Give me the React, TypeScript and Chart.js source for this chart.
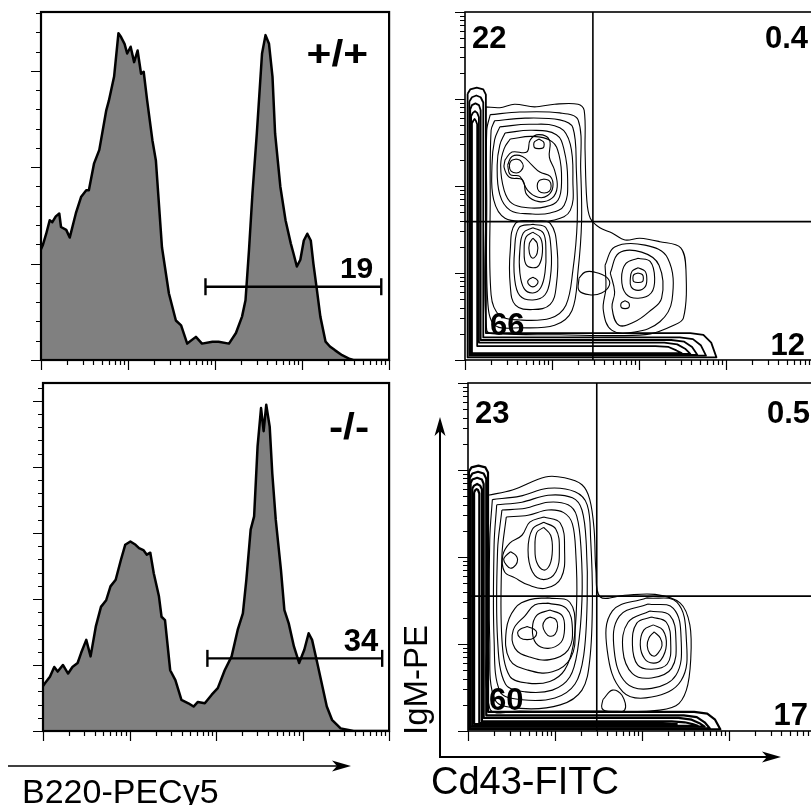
import React, { useEffect, useRef } from "react";
import { Chart, registerables } from "chart.js";

Chart.register(...registerables);

const FONT = '"Liberation Sans", Arial, Helvetica, sans-serif';

// ---------------- Histograms (x = log10 B220-PECy5 intensity, decades; y = events) ----------------
const WT_X = [0, 0.02, 0.06, 0.10, 0.13, 0.17, 0.21, 0.23, 0.29, 0.33, 0.40, 0.46, 0.52, 0.55, 0.61, 0.67, 0.75, 0.78, 0.84, 0.89, 0.92, 0.96, 0.99, 1.03, 1.07, 1.11, 1.15, 1.18, 1.22, 1.28, 1.32, 1.39, 1.47, 1.55, 1.61, 1.68, 1.78, 1.85, 1.97, 2.04, 2.16, 2.24, 2.31, 2.35, 2.39, 2.43, 2.48, 2.54, 2.58, 2.62, 2.66, 2.69, 2.75, 2.81, 2.87, 2.90, 2.94, 2.98, 3.02, 3.06, 3.10, 3.13, 3.17, 3.21, 3.27, 3.32, 3.38, 3.46, 3.55, 3.59, 4.00];
const WT_Y = [115, 119, 131, 145, 143, 149, 152, 138, 135, 127, 152, 169, 176, 176, 204, 218, 259, 269, 294, 339, 335, 328, 318, 325, 309, 321, 297, 299, 269, 228, 207, 117, 69, 41, 36, 17, 24, 17, 19, 19, 17, 28, 45, 62, 114, 173, 235, 318, 337, 328, 294, 235, 180, 145, 121, 111, 97, 104, 124, 131, 124, 100, 73, 45, 19, 14, 10, 5, 1, 0, 0];
const WT_GATE_X = [1.89, 3.91];
const WT_GATE_Y = 76;
const WT_GATE_LABEL = "19";
const WT_LABEL = "+/+";
const WT_Y_MAX = 361;

const KO_X = [0, 0.02, 0.08, 0.13, 0.17, 0.23, 0.29, 0.34, 0.40, 0.44, 0.50, 0.55, 0.61, 0.67, 0.73, 0.78, 0.84, 0.90, 0.95, 1.01, 1.07, 1.11, 1.16, 1.20, 1.24, 1.28, 1.34, 1.37, 1.41, 1.47, 1.53, 1.60, 1.68, 1.74, 1.79, 1.87, 1.95, 2.02, 2.10, 2.18, 2.25, 2.31, 2.35, 2.40, 2.44, 2.48, 2.52, 2.55, 2.58, 2.62, 2.65, 2.69, 2.75, 2.79, 2.84, 2.90, 2.96, 3.02, 3.07, 3.11, 3.17, 3.23, 3.28, 3.34, 3.44, 3.59, 4.00];
const KO_Y = [68, 72, 82, 97, 90, 100, 87, 97, 103, 118, 138, 113, 158, 188, 198, 219, 229, 259, 282, 287, 282, 277, 274, 267, 270, 239, 204, 173, 168, 92, 77, 47, 42, 37, 44, 42, 55, 65, 92, 113, 153, 178, 229, 305, 325, 431, 489, 454, 494, 461, 390, 320, 244, 183, 163, 128, 103, 123, 148, 138, 103, 67, 37, 17, 4, 0, 0];
const KO_GATE_X = [1.90, 3.92];
const KO_GATE_Y = 110;
const KO_GATE_LABEL = "34";
const KO_LABEL = "-/-";
const KO_Y_MAX = 527;

// ---------------- Contour plots (x = log10 Cd43-FITC, y = log10 IgM-PE; closed contour rings) ----------------
const WT_QUAD_X = 1.47;
const WT_QUAD_Y = 1.59;
const WT_QUADS = ["22", "0.4", "66", "12"];

const WT_BAND = [
  [0.03, 3.06, 0.06, 3.11, 0.135, 3.13, 0.21, 3.11, 0.24, 3.05, 0.24, 0.31, 2.59, 0.31, 2.74, 0.29, 2.83, 0.20, 2.89, 0.03, 0.03, 0.03],
  [0.05, 2.97, 0.08, 3.02, 0.13, 3.04, 0.18, 3.02, 0.21, 2.96, 0.21, 0.26, 2.47, 0.26, 2.62, 0.24, 2.71, 0.17, 2.77, 0.05, 0.05, 0.05],
  [0.06, 2.88, 0.08, 2.93, 0.12, 2.95, 0.16, 2.93, 0.18, 2.87, 0.18, 0.23, 2.37, 0.23, 2.52, 0.21, 2.61, 0.15, 2.67, 0.06, 0.06, 0.06],
  [0.07, 2.80, 0.09, 2.84, 0.115, 2.86, 0.14, 2.84, 0.16, 2.79, 0.16, 0.20, 2.29, 0.20, 2.44, 0.18, 2.53, 0.13, 2.59, 0.07, 0.07, 0.07],
  [0.08, 2.72, 0.095, 2.75, 0.11, 2.77, 0.125, 2.75, 0.14, 2.71, 0.14, 0.16, 2.19, 0.16, 2.34, 0.15, 2.43, 0.11, 2.49, 0.08, 0.08, 0.08],
];
const WT_ENVELOPE = [
  [0.24, 2.91, 0.40, 2.90, 0.57, 2.94, 0.80, 2.91, 1.03, 2.94, 1.30, 2.94, 1.37, 2.87, 1.38, 2.41, 1.40, 1.84, 1.44, 1.63, 1.55, 1.52, 1.69, 1.46, 1.84, 1.38, 2.01, 1.40, 2.24, 1.36, 2.48, 1.29, 2.54, 1.03, 2.51, 0.48, 2.38, 0.39, 2.13, 0.30, 1.78, 0.28, 1.09, 0.29, 0.40, 0.30, 0.25, 0.34, 0.24, 1.84],
  [0.29, 2.82, 0.63, 2.85, 1.09, 2.84, 1.30, 2.76, 1.33, 2.18, 1.34, 1.59, 1.30, 1.03, 1.23, 0.57, 1.03, 0.40, 0.63, 0.37, 0.34, 0.40, 0.26, 0.69, 0.25, 1.84, 0.25, 2.64],
  [0.34, 2.75, 0.69, 2.78, 1.09, 2.76, 1.24, 2.67, 1.28, 2.18, 1.29, 1.59, 1.24, 1.03, 1.16, 0.63, 0.98, 0.48, 0.63, 0.46, 0.40, 0.51, 0.30, 0.75, 0.29, 1.84, 0.30, 2.64],
];
const WT_UPPER = [
  [0.40, 2.68, 0.75, 2.71, 1.09, 2.67, 1.21, 2.48, 1.24, 2.07, 1.21, 1.72, 1.03, 1.61, 0.75, 1.60, 0.46, 1.63, 0.33, 1.84, 0.31, 2.24, 0.34, 2.53],
  [0.46, 2.61, 0.77, 2.64, 1.05, 2.59, 1.14, 2.41, 1.18, 2.07, 1.14, 1.78, 0.98, 1.69, 0.75, 1.68, 0.52, 1.72, 0.40, 1.90, 0.37, 2.24, 0.40, 2.47],
  [0.52, 2.54, 0.78, 2.57, 1.00, 2.51, 1.08, 2.36, 1.11, 2.07, 1.07, 1.84, 0.92, 1.76, 0.72, 1.75, 0.54, 1.80, 0.45, 1.95, 0.41, 2.24, 0.45, 2.43],
  [0.46, 2.30, 0.54, 2.39, 0.71, 2.39, 0.75, 2.53, 0.85, 2.59, 0.97, 2.53, 0.97, 2.33, 1.03, 2.18, 1.06, 1.99, 1.00, 1.86, 0.85, 1.82, 0.71, 1.90, 0.66, 2.07, 0.51, 2.10, 0.45, 2.21],
  [0.49, 2.24, 0.54, 2.34, 0.66, 2.34, 0.77, 2.24, 0.86, 2.16, 0.98, 2.11, 1.01, 1.99, 0.95, 1.89, 0.84, 1.87, 0.72, 1.95, 0.63, 2.11, 0.52, 2.13],
  [0.85, 2.54, 0.90, 2.51, 0.91, 2.48, 0.90, 2.44, 0.85, 2.43, 0.80, 2.44, 0.79, 2.48, 0.80, 2.51],
  [0.59, 2.31, 0.64, 2.29, 0.67, 2.23, 0.64, 2.17, 0.59, 2.15, 0.53, 2.17, 0.51, 2.23, 0.53, 2.29],
  [0.91, 2.08, 0.97, 2.06, 0.99, 2.00, 0.97, 1.94, 0.91, 1.92, 0.85, 1.94, 0.83, 2.00, 0.85, 2.06],
];
const WT_LOWER = [
  [0.78, 1.40, 0.83, 1.34, 0.83, 1.23, 0.78, 1.17, 0.74, 1.23, 0.74, 1.34],
  [0.78, 0.95, 0.82, 0.93, 0.84, 0.90, 0.82, 0.86, 0.78, 0.84, 0.74, 0.86, 0.72, 0.90, 0.74, 0.93],
  [0.78, 1.47, 0.87, 1.40, 0.89, 1.24, 0.85, 1.09, 0.78, 1.06, 0.70, 1.10, 0.68, 1.26, 0.70, 1.41],
  [0.78, 1.52, 0.90, 1.46, 0.93, 1.26, 0.92, 1.01, 0.87, 0.83, 0.78, 0.77, 0.68, 0.82, 0.63, 1.01, 0.63, 1.26, 0.67, 1.46],
  [0.78, 1.56, 0.93, 1.52, 0.99, 1.26, 0.98, 0.94, 0.92, 0.75, 0.78, 0.69, 0.63, 0.74, 0.57, 0.94, 0.57, 1.26, 0.62, 1.52],
  [0.78, 1.60, 0.98, 1.57, 1.06, 1.26, 1.05, 0.86, 0.98, 0.64, 0.78, 0.58, 0.58, 0.63, 0.52, 0.86, 0.52, 1.26, 0.58, 1.57],
];
const WT_RIGHT = [
  [1.99, 1.00, 2.04, 0.98, 2.05, 0.94, 2.04, 0.90, 1.99, 0.89, 1.94, 0.90, 1.93, 0.94, 1.94, 0.98],
  [1.99, 1.06, 2.07, 1.02, 2.09, 0.93, 2.07, 0.84, 1.99, 0.80, 1.91, 0.84, 1.90, 0.93, 1.92, 1.02],
  [1.99, 1.17, 2.13, 1.13, 2.18, 0.94, 2.14, 0.77, 1.99, 0.71, 1.85, 0.76, 1.80, 0.94, 1.85, 1.11],
  [1.84, 0.68, 1.88, 0.66, 1.89, 0.63, 1.88, 0.60, 1.84, 0.59, 1.80, 0.60, 1.79, 0.63, 1.80, 0.66],
  [1.67, 1.00, 1.77, 1.23, 2.03, 1.24, 2.23, 1.09, 2.26, 0.71, 2.11, 0.55, 1.95, 0.44, 1.77, 0.40, 1.69, 0.60, 1.72, 0.78],
  [1.61, 1.09, 1.72, 1.30, 2.07, 1.32, 2.33, 1.17, 2.38, 0.69, 2.24, 0.44, 1.95, 0.32, 1.69, 0.34, 1.59, 0.57, 1.62, 0.83],
  [1.31, 0.94, 1.38, 1.01, 1.49, 1.01, 1.63, 0.95, 1.66, 0.86, 1.57, 0.77, 1.43, 0.75, 1.31, 0.80],
];

const KO_QUAD_X = 1.48;
const KO_QUAD_Y = 1.55;
const KO_QUADS = ["23", "0.5", "60", "17"];

const KO_BAND = [
  [0.01, 2.98, 0.04, 3.03, 0.12, 3.05, 0.20, 3.03, 0.23, 2.97, 0.23, 0.22, 2.60, 0.22, 2.75, 0.20, 2.84, 0.13, 2.90, 0.02, 0.01, 0.02],
  [0.02, 2.91, 0.05, 2.96, 0.115, 2.98, 0.18, 2.96, 0.21, 2.90, 0.21, 0.18, 2.48, 0.18, 2.63, 0.16, 2.72, 0.10, 2.78, 0.03, 0.02, 0.03],
  [0.03, 2.85, 0.05, 2.89, 0.105, 2.91, 0.16, 2.89, 0.18, 2.84, 0.18, 0.15, 2.42, 0.15, 2.57, 0.13, 2.66, 0.09, 2.72, 0.05, 0.03, 0.05],
  [0.05, 2.79, 0.07, 2.82, 0.105, 2.84, 0.14, 2.82, 0.16, 2.78, 0.16, 0.11, 2.34, 0.11, 2.49, 0.10, 2.58, 0.08, 2.64, 0.06, 0.05, 0.06],
  [0.07, 2.74, 0.085, 2.77, 0.10, 2.78, 0.115, 2.77, 0.13, 2.73, 0.13, 0.09, 2.24, 0.09, 2.40, 0.08, 0.07, 0.08],
];
const KO_ENVELOPE = [
  [0.23, 2.71, 0.51, 2.77, 0.89, 2.92, 1.11, 2.91, 1.31, 2.83, 1.40, 2.66, 1.45, 2.31, 1.47, 1.85, 1.52, 1.54, 1.80, 1.56, 2.15, 1.57, 2.44, 1.47, 2.55, 1.22, 2.56, 0.82, 2.51, 0.47, 2.39, 0.29, 2.09, 0.23, 1.52, 0.23, 0.60, 0.23, 0.25, 0.26, 0.24, 1.51],
  [0.28, 2.66, 0.60, 2.70, 0.92, 2.79, 1.23, 2.75, 1.37, 2.60, 1.41, 2.20, 1.43, 1.51, 1.40, 0.82, 1.31, 0.47, 1.06, 0.30, 0.60, 0.26, 0.31, 0.36, 0.25, 1.05, 0.25, 2.20],
  [0.33, 2.60, 0.62, 2.63, 0.92, 2.71, 1.20, 2.68, 1.31, 2.54, 1.36, 2.14, 1.37, 1.51, 1.33, 0.87, 1.23, 0.54, 1.00, 0.38, 0.62, 0.36, 0.37, 0.45, 0.30, 1.05, 0.30, 2.14],
  [0.39, 2.54, 0.66, 2.56, 0.92, 2.63, 1.15, 2.60, 1.25, 2.47, 1.30, 2.08, 1.31, 1.51, 1.26, 0.93, 1.17, 0.62, 0.97, 0.47, 0.66, 0.45, 0.43, 0.54, 0.34, 1.05, 0.34, 2.08],
  [0.44, 2.46, 0.69, 2.48, 0.92, 2.54, 1.10, 2.51, 1.20, 2.38, 1.24, 2.02, 1.25, 1.51, 1.21, 0.99, 1.11, 0.70, 0.94, 0.57, 0.69, 0.55, 0.48, 0.63, 0.39, 1.05, 0.39, 2.02],
];
const KO_UPPER = [
  [0.87, 2.34, 0.95, 2.25, 0.97, 2.08, 0.94, 1.91, 0.87, 1.85, 0.79, 1.94, 0.77, 2.10, 0.79, 2.28],
  [0.87, 2.40, 1.01, 2.32, 1.05, 2.08, 1.01, 1.83, 0.87, 1.74, 0.74, 1.83, 0.69, 2.08, 0.74, 2.32],
  [0.49, 2.06, 0.55, 2.02, 0.57, 1.97, 0.55, 1.91, 0.49, 1.87, 0.44, 1.91, 0.41, 1.97, 0.44, 2.02],
  [0.87, 2.46, 1.06, 2.39, 1.11, 2.08, 1.07, 1.76, 0.89, 1.64, 0.69, 1.68, 0.54, 1.76, 0.42, 1.83, 0.40, 2.02, 0.48, 2.16, 0.62, 2.25, 0.71, 2.40],
];
const KO_LOWER = [
  [0.94, 1.31, 1.01, 1.28, 1.03, 1.20, 1.00, 1.11, 0.94, 1.09, 0.89, 1.13, 0.86, 1.21, 0.89, 1.28],
  [0.68, 1.20, 0.76, 1.17, 0.79, 1.13, 0.76, 1.07, 0.68, 1.05, 0.60, 1.07, 0.57, 1.13, 0.60, 1.17],
  [0.94, 1.39, 1.08, 1.33, 1.11, 1.18, 1.07, 1.02, 0.92, 0.95, 0.78, 1.01, 0.74, 1.18, 0.79, 1.33],
  [0.92, 1.47, 1.13, 1.41, 1.20, 1.18, 1.15, 0.93, 0.94, 0.82, 0.71, 0.85, 0.54, 0.95, 0.52, 1.16, 0.66, 1.33, 0.77, 1.45],
  [0.92, 1.53, 1.17, 1.48, 1.23, 1.16, 1.18, 0.84, 0.97, 0.68, 0.69, 0.70, 0.48, 0.82, 0.44, 1.16, 0.54, 1.41, 0.71, 1.51],
];
const KO_RIGHT = [
  [2.14, 1.14, 2.21, 1.07, 2.23, 0.98, 2.18, 0.89, 2.14, 0.86, 2.09, 0.89, 2.06, 0.98, 2.08, 1.07],
  [2.13, 1.22, 2.24, 1.16, 2.28, 0.99, 2.22, 0.82, 2.13, 0.78, 2.03, 0.83, 1.98, 0.99, 2.02, 1.16],
  [2.11, 1.31, 2.28, 1.25, 2.33, 1.01, 2.29, 0.77, 2.11, 0.71, 1.95, 0.76, 1.89, 0.99, 1.94, 1.24],
  [2.09, 1.38, 2.32, 1.33, 2.39, 1.05, 2.34, 0.72, 2.11, 0.61, 1.89, 0.66, 1.78, 0.93, 1.84, 1.25],
  [2.07, 1.46, 2.36, 1.41, 2.45, 1.05, 2.39, 0.64, 2.11, 0.49, 1.82, 0.55, 1.68, 0.93, 1.74, 1.32],
  [2.05, 1.53, 2.40, 1.48, 2.51, 1.05, 2.45, 0.58, 2.11, 0.39, 1.78, 0.45, 1.60, 0.93, 1.66, 1.38],
  [1.55, 0.36, 1.66, 0.47, 1.77, 0.41, 1.80, 0.24, 1.63, 0.22, 1.54, 0.26],
];

// ---------------- helpers ----------------
const LOG_MINORS = [2, 3, 4, 5, 6, 7, 8, 9];

function logTicks(maxDecade) {
  const t = [];
  for (let d = 0; d <= maxDecade; d++) {
    t.push({ v: d, major: true });
    if (d < maxDecade) for (const m of LOG_MINORS) t.push({ v: d + Math.log10(m), major: false });
  }
  return t;
}

function linTicks(max, majorStep, minorStep) {
  const t = [];
  for (let i = 0; i * minorStep <= max + 1e-9; i++) {
    const v = i * minorStep;
    t.push({ v, major: Math.abs(v / majorStep - Math.round(v / majorStep)) < 1e-6 });
  }
  return t;
}

function makeFramePlugin(cfg) {
  return {
    id: "frame",
    afterDatasetsDraw(chart) {
      const { ctx, chartArea: a } = chart;
      const xs = chart.scales.x;
      const ys = chart.scales.y;
      ctx.save();
      ctx.strokeStyle = "#000";
      ctx.lineWidth = cfg.frameWidth;
      ctx.strokeRect(a.left, a.top, a.right - a.left, a.bottom - a.top);
      ctx.lineWidth = 1.2;
      ctx.beginPath();
      for (const t of cfg.xTicks) {
        const p = Math.round(xs.getPixelForValue(t.v)) + 0.5;
        ctx.moveTo(p, a.bottom);
        ctx.lineTo(p, a.bottom + (t.major ? 10 : 5));
      }
      for (const t of cfg.yTicks) {
        const p = Math.round(ys.getPixelForValue(t.v)) + 0.5;
        ctx.moveTo(a.left, p);
        ctx.lineTo(a.left - (t.major ? 10 : 5), p);
      }
      ctx.stroke();
      ctx.fillStyle = "#000";
      ctx.textBaseline = "alphabetic";
      for (const lb of cfg.labels) {
        let x = typeof lb.ax === "number" ? xs.getPixelForValue(lb.ax) : lb.ax === "left" ? a.left : a.right;
        let y = typeof lb.ay === "number" ? ys.getPixelForValue(lb.ay) : lb.ay === "top" ? a.top : a.bottom;
        x += lb.dx;
        y += lb.dy;
        ctx.save();
        ctx.font = lb.font;
        ctx.textAlign = lb.align;
        ctx.translate(x, y);
        ctx.scale(lb.sx || 1, 1);
        ctx.fillText(lb.text, 0, 0);
        ctx.restore();
      }
      ctx.restore();
    },
  };
}

function baseOptions(padding, yMax) {
  return {
    animation: false,
    responsive: false,
    maintainAspectRatio: false,
    events: [],
    layout: { padding },
    scales: {
      x: { type: "linear", min: 0, max: 4, display: false },
      y: { type: "linear", min: 0, max: yMax, display: false },
    },
    plugins: { legend: { display: false }, tooltip: { enabled: false } },
  };
}

function histogramConfig(xs, ys, gateX, gateY, yMax, padding, genotype, gateLabel, g) {
  const curve = xs.map((x, i) => ({ x, y: ys[i] }));
  const gate = gateX.map((x) => ({ x, y: gateY }));
  return {
    type: "line",
    data: {
      datasets: [
        {
          data: gate,
          borderColor: "#000",
          borderWidth: 2.4,
          pointStyle: "line",
          rotation: 90,
          pointRadius: 8.5,
          pointBorderWidth: 2.4,
          pointBorderColor: "#000",
          pointBackgroundColor: "#000",
          tension: 0,
          fill: false,
        },
        {
          data: curve,
          borderColor: "#000",
          borderWidth: 2.5,
          backgroundColor: "#808080",
          fill: "origin",
          pointRadius: 0,
          tension: 0,
          borderJoinStyle: "round",
        },
      ],
    },
    options: baseOptions(padding, yMax),
    plugins: [
      makeFramePlugin({
        frameWidth: 2.2,
        xTicks: logTicks(4),
        yTicks: linTicks(yMax, 100, 20),
        labels: [
          { text: genotype, font: `bold 37px ${FONT}`, align: "right", ax: "right", ay: "top", dx: g.gdx, dy: g.gdy, sx: 1.15 },
          { text: gateLabel, font: `bold ${g.fs}px ${FONT}`, align: "right", ax: gateX[1], ay: gateY, dx: g.ldx, dy: g.ldy },
        ],
      }),
    ],
  };
}

function ringPoints(r) {
  const pts = [];
  for (let i = 0; i < r.length; i += 2) pts.push({ x: r[i], y: r[i + 1] });
  pts.push({ x: r[0], y: r[1] });
  return pts;
}

function lineSet(data, width, tension) {
  return {
    data,
    borderColor: "#000",
    borderWidth: width,
    tension,
    pointRadius: 0,
    fill: false,
    borderJoinStyle: "round",
  };
}

function contourConfig(groups, qx, qy, padding, quads, q) {
  const datasets = [
    lineSet([{ x: qx, y: 0 }, { x: qx, y: 4 }], 1.6, 0),
    lineSet([{ x: 0, y: qy }, { x: 4, y: qy }], 1.6, 0),
  ];
  for (const gr of groups) for (const r of gr.rings) datasets.push(lineSet(ringPoints(r), gr.width, gr.tension));
  const f = `bold 31px ${FONT}`;
  return {
    type: "line",
    data: { datasets },
    options: baseOptions(padding, 4),
    plugins: [
      makeFramePlugin({
        frameWidth: 1.6,
        xTicks: logTicks(4),
        yTicks: logTicks(4),
        labels: [
          { text: quads[0], font: f, align: "left", ax: "left", ay: "top", dx: q[0][0], dy: q[0][1] },
          { text: quads[1], font: f, align: "right", ax: "right", ay: "top", dx: q[1][0], dy: q[1][1] },
          { text: quads[2], font: f, align: "left", ax: "left", ay: "bottom", dx: q[2][0], dy: q[2][1] },
          { text: quads[3], font: f, align: "right", ax: "right", ay: "bottom", dx: q[3][0], dy: q[3][1] },
        ],
      }),
    ],
  };
}

function Panel({ left, top, width, height, build }) {
  const ref = useRef(null);
  useEffect(() => {
    const chart = new Chart(ref.current, build());
    return () => chart.destroy();
  }, []);
  return (
    <canvas
      ref={ref}
      width={width}
      height={height}
      style={{ position: "absolute", left, top, width, height }}
    />
  );
}

const labelStyle = {
  position: "absolute",
  fontFamily: FONT,
  color: "#000",
  whiteSpace: "nowrap",
};

export default function App() {
  return (
    <div style={{ position: "fixed", left: 0, top: 0, width: 811, height: 805, overflow: "hidden", background: "#fff" }}>
      <Panel
        left={25}
        top={0}
        width={375}
        height={375}
        build={() =>
          histogramConfig(WT_X, WT_Y, WT_GATE_X, WT_GATE_Y, WT_Y_MAX, { left: 16, top: 12, right: 9, bottom: 15 }, WT_LABEL, WT_GATE_LABEL, { gdx: -21, gdy: 54, fs: 30, ldx: -8, ldy: -9 })
        }
      />
      <Panel
        left={25}
        top={370}
        width={375}
        height={375}
        build={() =>
          histogramConfig(KO_X, KO_Y, KO_GATE_X, KO_GATE_Y, KO_Y_MAX, { left: 18, top: 13, right: 7, bottom: 14 }, KO_LABEL, KO_GATE_LABEL, { gdx: -20, gdy: 56, fs: 31, ldx: -4, ldy: -7 })
        }
      />
      <Panel
        left={445}
        top={0}
        width={380}
        height={375}
        build={() =>
          contourConfig(
            [
              { rings: WT_BAND, width: 1.8, tension: 0 },
              { rings: WT_ENVELOPE, width: 1.1, tension: 0.35 },
              { rings: WT_UPPER, width: 1.1, tension: 0.4 },
              { rings: WT_LOWER, width: 1.1, tension: 0.4 },
              { rings: WT_RIGHT, width: 1.1, tension: 0.4 },
            ],
            WT_QUAD_X,
            WT_QUAD_Y,
            { left: 20, top: 12, right: 12, bottom: 15 },
            WT_QUADS,
            [[7, 36], [-5, 36], [25, -25], [-8, -5]]
          )
        }
      />
      <Panel
        left={448}
        top={370}
        width={380}
        height={375}
        build={() =>
          contourConfig(
            [
              { rings: KO_BAND, width: 2.2, tension: 0 },
              { rings: KO_ENVELOPE, width: 1.1, tension: 0.35 },
              { rings: KO_UPPER, width: 1.1, tension: 0.4 },
              { rings: KO_LOWER, width: 1.1, tension: 0.4 },
              { rings: KO_RIGHT, width: 1.1, tension: 0.4 },
            ],
            KO_QUAD_X,
            KO_QUAD_Y,
            { left: 20, top: 13, right: 12, bottom: 14 },
            KO_QUADS,
            [[7, 40], [-6, 40], [21, -21], [-8, -6]]
          )
        }
      />
      <svg width={811} height={805} style={{ position: "absolute", left: 0, top: 0, pointerEvents: "none" }}>
        <line x1={8} y1={766} x2={340} y2={766} stroke="#000" strokeWidth={1.6} />
        <polygon points="351,766 332,760.5 337,766 332,771.5" fill="#000" />
        <line x1={440} y1={758} x2={440} y2={428} stroke="#000" strokeWidth={2} />
        <polygon points="440,417 434.5,436 440,431 445.5,436" fill="#000" />
        <line x1={439} y1={757} x2={770} y2={757} stroke="#000" strokeWidth={2} />
        <polygon points="781,757 762,751.5 767,757 762,762.5" fill="#000" />
      </svg>
      <div style={{ ...labelStyle, left: 22, top: 774, fontSize: 34, lineHeight: "34px" }}>B220-PECy5</div>
      <div style={{ ...labelStyle, left: 431, top: 762, fontSize: 38, lineHeight: "38px" }}>Cd43-FITC</div>
      <div
        style={{
          ...labelStyle,
          left: 399,
          top: 735,
          fontSize: 33,
          lineHeight: "33px",
          transform: "rotate(-90deg)",
          transformOrigin: "0 0",
        }}
      >
        IgM-PE
      </div>
    </div>
  );
}
